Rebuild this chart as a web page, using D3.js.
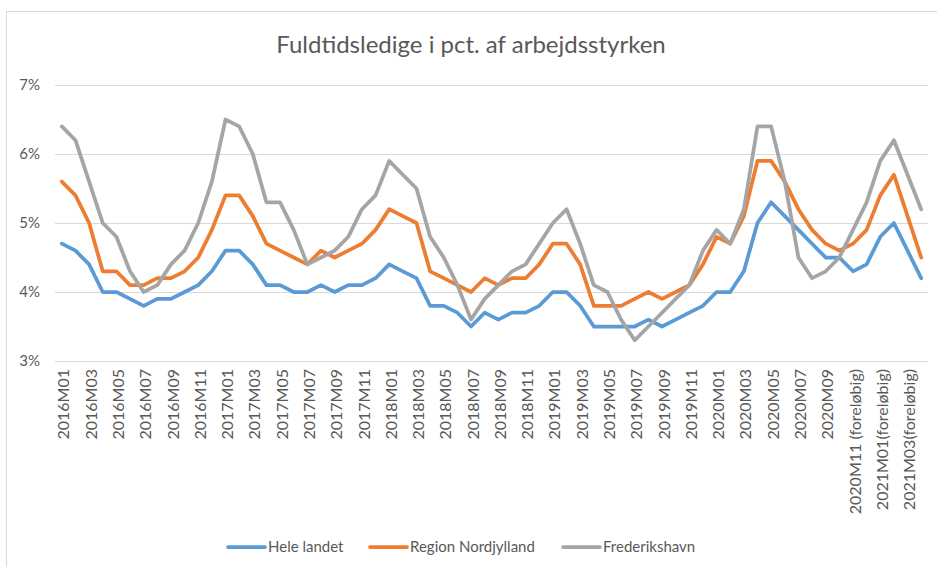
<!DOCTYPE html>
<html>
<head>
<meta charset="utf-8">
<script src="https://cdn.jsdelivr.net/npm/d3@7"></script>
<style>
  body { margin: 0; background: #fff; }
  text { font-family: Lato, "Open Sans", sans-serif; fill: #595959; }
</style>
</head>
<body>
<div id="chart"></div>
<script>
// Months shown on the category axis
const categories = [
  "2016M01","2016M02","2016M03","2016M04","2016M05","2016M06","2016M07","2016M08","2016M09","2016M10","2016M11","2016M12",
  "2017M01","2017M02","2017M03","2017M04","2017M05","2017M06","2017M07","2017M08","2017M09","2017M10","2017M11","2017M12",
  "2018M01","2018M02","2018M03","2018M04","2018M05","2018M06","2018M07","2018M08","2018M09","2018M10","2018M11","2018M12",
  "2019M01","2019M02","2019M03","2019M04","2019M05","2019M06","2019M07","2019M08","2019M09","2019M10","2019M11","2019M12",
  "2020M01","2020M02","2020M03","2020M04","2020M05","2020M06","2020M07","2020M08","2020M09","2020M10",
  "2020M11 (foreløbig)","2020M12 (foreløbig)","2021M01(foreløbig)","2021M02(foreløbig)","2021M03(foreløbig)","2021M04(foreløbig)"
];

const heleLandet = [
  4.7,4.6,4.4,4.0,4.0,3.9,3.8,3.9,3.9,4.0,4.1,4.3,
  4.6,4.6,4.4,4.1,4.1,4.0,4.0,4.1,4.0,4.1,4.1,4.2,
  4.4,4.3,4.2,3.8,3.8,3.7,3.5,3.7,3.6,3.7,3.7,3.8,
  4.0,4.0,3.8,3.5,3.5,3.5,3.5,3.6,3.5,3.6,3.7,3.8,
  4.0,4.0,4.3,5.0,5.3,5.1,4.9,4.7,4.5,4.5,
  4.3,4.4,4.8,5.0,4.6,4.2
];

const regionNordjylland = [
  5.6,5.4,5.0,4.3,4.3,4.1,4.1,4.2,4.2,4.3,4.5,4.9,
  5.4,5.4,5.1,4.7,4.6,4.5,4.4,4.6,4.5,4.6,4.7,4.9,
  5.2,5.1,5.0,4.3,4.2,4.1,4.0,4.2,4.1,4.2,4.2,4.4,
  4.7,4.7,4.4,3.8,3.8,3.8,3.9,4.0,3.9,4.0,4.1,4.4,
  4.8,4.7,5.1,5.9,5.9,5.6,5.2,4.9,4.7,4.6,
  4.7,4.9,5.4,5.7,5.1,4.5
];

const frederikshavn = [
  6.4,6.2,5.6,5.0,4.8,4.3,4.0,4.1,4.4,4.6,5.0,5.6,
  6.5,6.4,6.0,5.3,5.3,4.9,4.4,4.5,4.6,4.8,5.2,5.4,
  5.9,5.7,5.5,4.8,4.5,4.1,3.6,3.9,4.1,4.3,4.4,4.7,
  5.0,5.2,4.7,4.1,4.0,3.6,3.3,3.5,3.7,3.9,4.1,4.6,
  4.9,4.7,5.2,6.4,6.4,5.6,4.5,4.2,4.3,4.5,
  4.9,5.3,5.9,6.2,5.7,5.2
];

const seriesNames = ["Hele landet", "Region Nordjylland", "Frederikshavn"];
const seriesColors = ["#5B9BD5", "#ED7D31", "#A5A5A5"];
const yTicks = [3, 4, 5, 6, 7];

const width = 937, height = 567;
const plot = { left: 55, right: 928, top: 85, bottom: 361 };

const svg = d3.select("#chart").append("svg")
    .attr("width", width)
    .attr("height", height);

// chart frame (only top and left edges are inside the picture)
svg.append("rect")
    .attr("x", 6.5).attr("y", 11.5)
    .attr("width", 960).attr("height", 600)
    .attr("fill", "none")
    .attr("stroke", "#d9d9d9");

svg.append("text")
    .attr("x", 471).attr("y", 53)
    .attr("text-anchor", "middle")
    .style("font-size", "24px")
    .text("Fuldtidsledige i pct. af arbejdsstyrken");

const x = d3.scalePoint()
    .domain(categories)
    .range([plot.left, plot.right])
    .padding(0.5);

const y = d3.scaleLinear()
    .domain([3, 7])
    .range([plot.bottom, plot.top]);

// horizontal gridlines
svg.append("g")
    .selectAll("line")
    .data(yTicks)
    .enter()
    .append("line")
    .attr("x1", plot.left)
    .attr("x2", plot.right)
    .attr("y1", d => y(d) + 0.5)
    .attr("y2", d => y(d) + 0.5)
    .attr("stroke", "#d9d9d9")
    .attr("stroke-width", 1);

// y axis labels
const yAxis = svg.append("g")
    .attr("transform", `translate(${plot.left - 15},0)`)
    .call(d3.axisLeft(y).tickValues(yTicks).tickFormat(d => d + "%").tickSize(0));
yAxis.select(".domain").remove();
yAxis.selectAll("text")
    .attr("x", 0)
    .style("font-size", "15px")
    .style("fill", "#595959")
    .style("font-family", "Lato, sans-serif");

// x axis labels, every other month
const xAxis = svg.append("g")
    .attr("transform", `translate(0,${plot.bottom + 8})`)
    .call(d3.axisBottom(x)
        .tickValues(categories.filter((d, i) => i % 2 === 0))
        .tickSize(0));
xAxis.select(".domain").remove();
xAxis.selectAll("text")
    .attr("transform", "rotate(-90)")
    .attr("x", 0)
    .attr("y", 0)
    .attr("dy", "0.35em")
    .attr("dx", 0)
    .attr("text-anchor", "end")
    .style("font-size", "16px")
    .style("fill", "#595959")
    .style("font-family", "Lato, sans-serif");
xAxis.selectAll(".tick").attr("transform", d => `translate(${x(d) + 2},0)`);

// lines, drawn in series order like Excel
const allSeries = [heleLandet, regionNordjylland, frederikshavn];
const line = d3.line()
    .x((d, i) => x(categories[i]))
    .y(d => y(d));

allSeries.forEach((values, k) => {
    svg.append("path")
        .datum(values)
        .attr("d", line)
        .attr("fill", "none")
        .attr("stroke", seriesColors[k])
        .attr("stroke-width", 3.75)
        .attr("stroke-linejoin", "round")
        .attr("stroke-linecap", "round");
});

// legend
const legendX = [228, 370, 563];
const legend = svg.append("g");
seriesNames.forEach((name, k) => {
    legend.append("line")
        .attr("x1", legendX[k]).attr("x2", legendX[k] + 37)
        .attr("y1", 547).attr("y2", 547)
        .attr("stroke", seriesColors[k])
        .attr("stroke-width", 3.75)
        .attr("stroke-linecap", "round");
    legend.append("text")
        .attr("x", legendX[k] + 40)
        .attr("y", 547)
        .attr("dy", "0.35em")
        .style("font-size", "15px")
        .text(name);
});
</script>
</body>
</html>
